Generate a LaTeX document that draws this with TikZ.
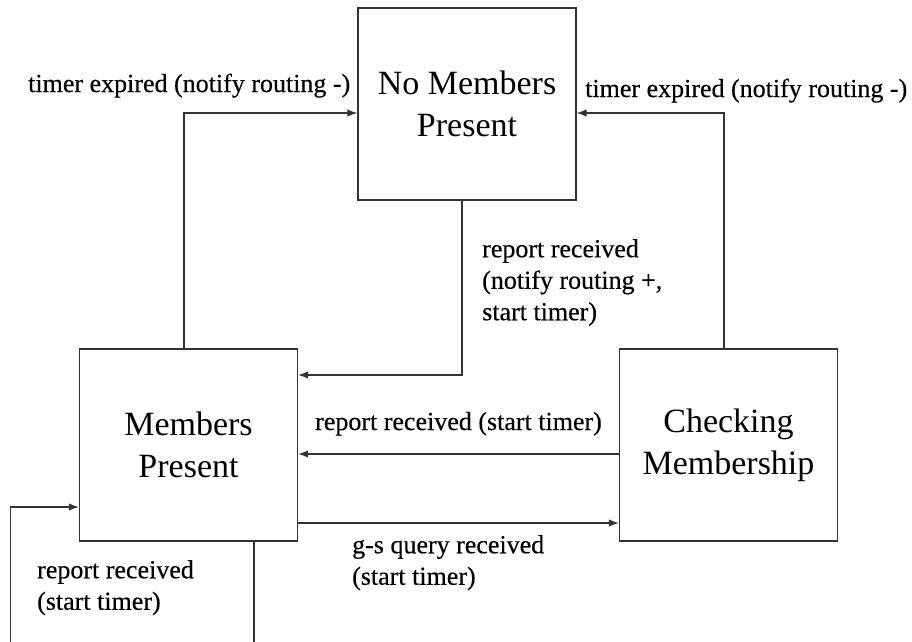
\documentclass[tikz,border=0pt]{standalone}
\usepackage{fontspec}
\setmainfont{Liberation Serif}
\newfontfamily\labelfont{Liberation Serif}[FakeBold=0.35]
\usetikzlibrary{arrows.meta}
\begin{document}
\begin{tikzpicture}[x=1pt,y=-1pt,
  state/.style={draw=black!80, line width=1.3pt, minimum width=218pt,
    minimum height=192pt, inner sep=0pt, align=center,
    font=\fontsize{34}{42}\selectfont},
  arr/.style={draw=black!80, line width=1.2pt,
    -{Latex[length=10pt,width=7.5pt]}},
  lbl/.style={inner sep=0pt, font=\labelfont\fontsize{26}{31.5}\selectfont},
  lblm/.style={lbl, align=left}]
\useasboundingbox (0,0) rectangle (912,641);
\clip (0,0) rectangle (912,641);
\fill[white] (0,0) rectangle (912,641);

% states
\node[state] (nm) at (467,104)   {No Members\\Present};
\node[state] (mp) at (188.5,445) {Members\\Present};
\node[state] (cm) at (728.5,445) {Checking\\Membership};

% transitions
\draw[arr] ([xshift=-4.5pt]mp.north) |- ([yshift=-9pt]nm.west);
\draw[arr] ([xshift=-4.5pt]cm.north) |- ([yshift=-9pt]nm.east);
\draw[arr] ([xshift=-5pt]nm.south) |- ([yshift=70pt]mp.east);
\draw[arr] ([yshift=-9pt]cm.west) -- ([yshift=-9pt]mp.east);
\draw[arr] ([yshift=-78pt]mp.east) -- ([yshift=-78pt]cm.west);
\draw[arr] ([xshift=65.5pt]mp.south) -- ++(0,120)
  -| ([xshift=-68pt,yshift=-62pt]mp.west) -- ([yshift=-62pt]mp.west);

% transition labels
\node[lbl, anchor=base west] (t1) at (28,92) {timer expired (notify routing -)};
\node[lbl, anchor=base west] (t2) at (585,97) {timer expired (notify routing -)};
\node[lblm, anchor=north west] (t3) at (482,239) {report received\\(notify routing +,\\start timer)};
\node[lbl, anchor=base west] (t4) at (315,430) {report received (start timer)};
\node[lblm, anchor=north west] (t5) at (352,535) {g-s query received\\(start timer)};
\node[lblm, anchor=north west] (t6) at (37,560) {report received\\(start timer)};
\end{tikzpicture}
\end{document}
